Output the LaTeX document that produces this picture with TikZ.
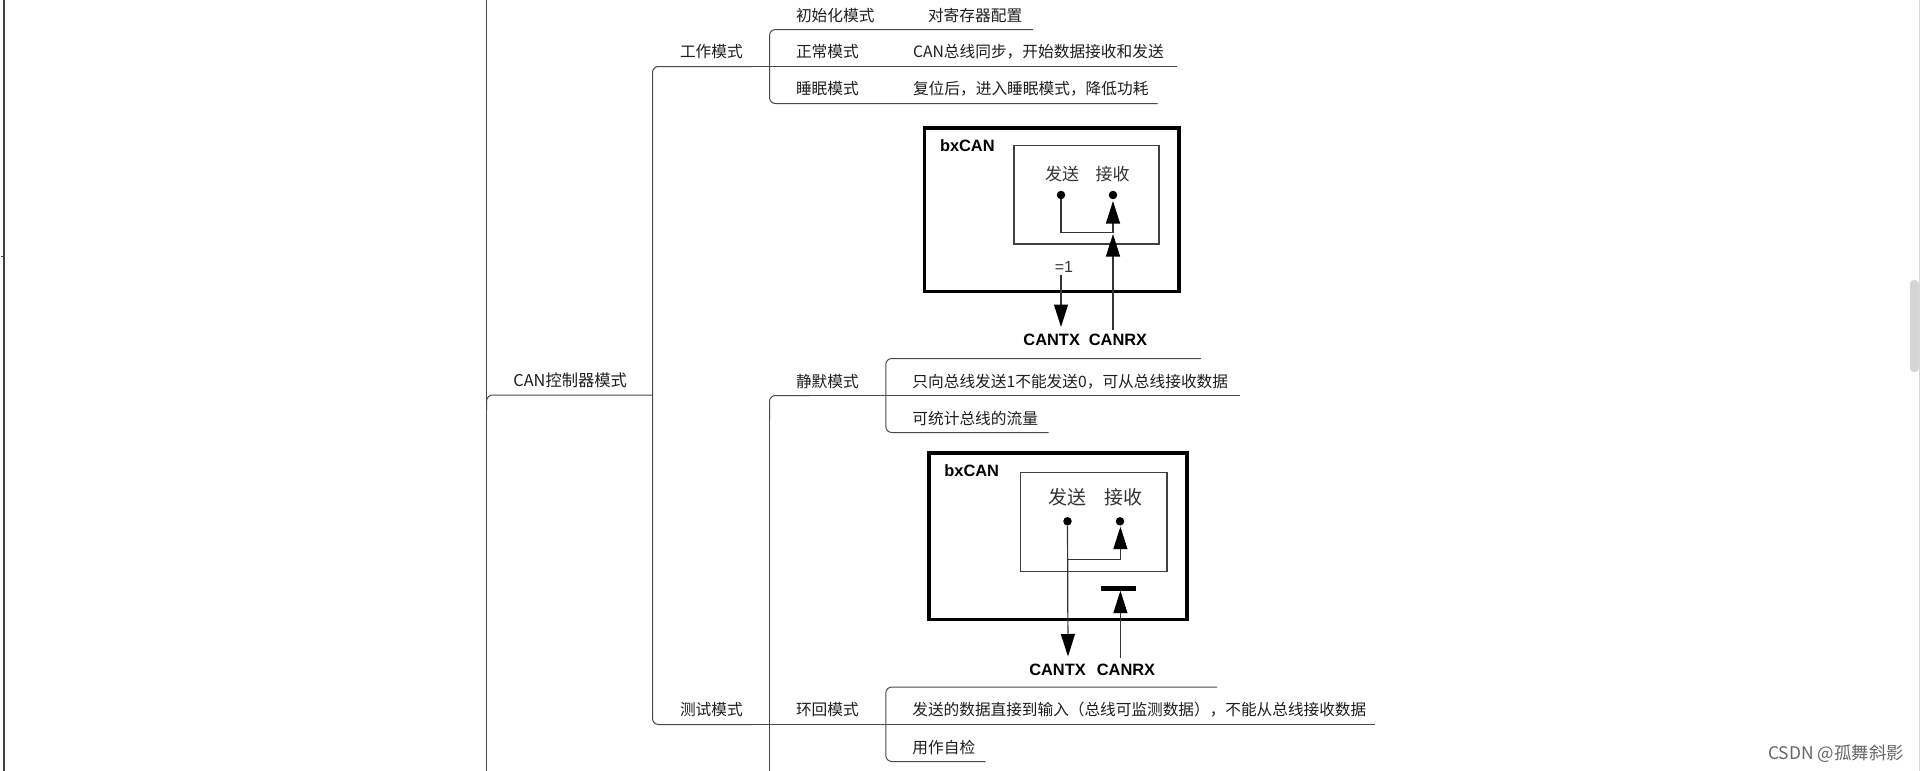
\documentclass[tikz,border=0pt]{standalone}
\usepackage{fontspec}
\setmainfont{Noto Sans CJK SC}
\newfontfamily\boldlat{Liberation Sans}[BoldFont={Liberation Sans Bold}]
\usetikzlibrary{arrows.meta}
\definecolor{ink}{HTML}{1E1E1E}
\definecolor{wire}{HTML}{4A4A4A}
\definecolor{sbar}{HTML}{D5D5D7}
\tikzset{
  x=1pt,y=-1pt,
  txt/.style={anchor=west,inner sep=0pt,outer sep=0pt,text=ink,text height=12pt,text depth=0pt,font=\fontsize{15.7}{16}\selectfont},
  lab/.style={anchor=center,inner sep=0pt,outer sep=0pt,text=black,font=\boldlat\bfseries\fontsize{16.4}{17}\selectfont},
  cjk/.style={anchor=center,inner sep=0pt,outer sep=0pt,text=black!80,font=\fontsize{#1}{#1}\selectfont},
  wireline/.style={draw=wire,line width=1pt},
  branch/.style={wireline,rounded corners=6pt},
  outerbox/.style={draw=black,line width=#1},
  innerbox/.style={draw=black!75,line width=1.4pt},
  sig/.style={draw=black!80,line width=1.2pt},
  sigarrow/.style={sig,-{Triangle[width=14pt,length=22.5pt,fill=black,color=black]},shorten >=0pt},
  dot/.style={circle,fill=black,inner sep=0pt,minimum width=6.5pt,minimum height=8.5pt},
}
\begin{document}
\begin{tikzpicture}
\useasboundingbox (0,0) rectangle (1920,771);
\fill[white] (0,0) rectangle (1920,771);

% page furniture
\coordinate (edgeT) at (4,0); \coordinate (edgeB) at (4,771);
\draw[draw=black!75,line width=2pt] (edgeT) -- (edgeB);
\coordinate (tickL) at (1,256.5); \coordinate (tickR) at (3,256.5);
\draw[draw=black!75,line width=1pt] (tickL) -- (tickR);
\coordinate (frameT) at (1919.5,0); \coordinate (frameB) at (1919.5,771);
\draw[draw=black!15,line width=1pt] (frameT) -- (frameB);
\fill[sbar,rounded corners=4pt] (1910,280) rectangle (1919,372);

% coordinates of the tree
\coordinate (rootT) at (486.6,0);
\coordinate (rootB) at (486.6,771);
\coordinate (rootJ) at (486.6,395);
\coordinate (mainJ) at (652.5,395);
\coordinate (mainTop) at (652.5,66.5);
\coordinate (mainBot) at (652.5,724.5);
\coordinate (workJ) at (769.5,66.5);
\coordinate (workEnd) at (1177,66.5);
\coordinate (workTop) at (769.5,29.5);
\coordinate (initEnd) at (1033,29.5);
\coordinate (workBot) at (769.5,103.5);
\coordinate (sleepEnd) at (1157.5,103.5);
\coordinate (testTop) at (769.5,395.5);
\coordinate (testBot) at (769.5,771);
\coordinate (silentJ) at (885.8,395.5);
\coordinate (silentEnd) at (1239.6,395.5);
\coordinate (silentT) at (885.8,358.5);
\coordinate (silentTEnd) at (1201,358.5);
\coordinate (silentB) at (885.8,432.5);
\coordinate (silentBEnd) at (1048.6,432.5);
\coordinate (loopJ) at (885.8,724.5);
\coordinate (loopEnd) at (1375,724.5);
\coordinate (loopT) at (885.8,687);
\coordinate (loopTEnd) at (1217,687);
\coordinate (loopB) at (885.8,761.5);
\coordinate (loopBEnd) at (985.6,761.5);

% tree connectors
\draw[wireline] (rootT) -- (rootB);
\draw[branch] (486.6,410) -- (rootJ) -- (mainJ);
\draw[branch] (mainJ |- workJ) ++(100,0) -- (mainTop) -- (mainBot) -- ++(100,0);
\draw[wireline] (mainTop) ++(90,0) -- (workEnd);
\draw[wireline] (mainBot) ++(90,0) -- (loopEnd);
\draw[branch] (initEnd) -- (workTop) -- (workBot) -- (sleepEnd);
\draw[branch] (769.5,420) -- (testTop) -- ++(40,0);
\draw[wireline] (769.5,410) -- (testBot);
\draw[wireline] (800,395.5) -- (silentEnd);
\draw[branch] (silentTEnd) -- (silentT) -- (silentB) -- (silentBEnd);
\draw[branch] (loopTEnd) -- (loopT) -- (loopB) -- (loopBEnd);

% tree labels
\node[txt,font=\fontsize{16.3}{16}\selectfont] (tRoot) at (513.4,380.5) {CAN控制器模式};
\node[txt] (tWork) at (680,51.7) {工作模式};
\node[txt] (tInit) at (796,15) {初始化模式};
\node[txt] (tInitD) at (928,15) {对寄存器配置};
\node[txt] (tNorm) at (796,51.7) {正常模式};
\node[txt] (tNormD) at (913,51.7) {CAN总线同步，开始数据接收和发送};
\node[txt] (tSleep) at (796,88.7) {睡眠模式};
\node[txt] (tSleepD) at (913,88.7) {复位后，进入睡眠模式，降低功耗};
\node[txt] (tSil) at (796,381) {静默模式};
\node[txt] (tSilA) at (912.4,381) {只向总线发送1不能发送0，可从总线接收数据};
\node[txt] (tSilB) at (912.4,418) {可统计总线的流量};
\node[txt] (tTest) at (680,709.5) {测试模式};
\node[txt] (tLoop) at (796,709.5) {环回模式};
\node[txt,font=\fontsize{15.65}{16}\selectfont] (tLoopA) at (912.4,709.5) {发送的数据直接到输入（总线可监测数据），不能从总线接收数据};
\node[txt] (tLoopB) at (912.4,747) {用作自检};

% ---- silent-mode figure
\draw[outerbox=3.6pt] (924.5,128) rectangle (1179,291.5);
\draw[innerbox] (1014,145.7) rectangle (1159,244);
\node[lab,anchor=west] (bx1) at (940,146) {bxCAN};
\node[cjk=17] (tx1) at (1062,174) {发送};
\node[cjk=17] (rx1) at (1112.5,174) {接收};
\node[dot] (d1a) at (1061,195) {};
\node[dot] (d1b) at (1113,195) {};
\node[lab] (cantx1) at (1051.7,340) {CANTX};
\node[lab] (canrx1) at (1118,340) {CANRX};
\node[inner sep=0pt,text=black!80,font=\boldlat\fontsize{16}{16}\selectfont] (eq1) at (1064,267) {=1};
\coordinate (s1a) at (1061,232.5);
\coordinate (s1b) at (1113,232.5);
\coordinate (s1c) at (1113,201);
\coordinate (s1d) at (1061,275);
\coordinate (s1e) at (1061,327);
\coordinate (s1f) at (1113,330);
\coordinate (s1g) at (1113,234);
\draw[sig] (d1a) -- (s1a) -- (s1b);
\draw[sigarrow] (s1b) -- (s1c);
\draw[sigarrow] (s1d) -- (s1e);
\draw[sigarrow] (s1f) -- (s1g);

% ---- loopback figure
\draw[outerbox=3.2pt] (929,453) rectangle (1187,619.8);
\draw[innerbox] (1020.5,472.5) rectangle (1167,571.5);
\node[lab,anchor=west] (bx2) at (944.4,471) {bxCAN};
\node[cjk=19] (tx2) at (1067.5,497.5) {发送};
\node[cjk=19] (rx2) at (1123,497.5) {接收};
\node[dot] (d2a) at (1067.5,521.3) {};
\node[dot] (d2b) at (1120,521.3) {};
\node[lab] (cantx2) at (1057.5,669.8) {CANTX};
\node[lab] (canrx2) at (1126,669.8) {CANRX};
\coordinate (s2a) at (1068,656.5);
\coordinate (s2b) at (1068,559.5);
\coordinate (s2c) at (1120.4,559.5);
\coordinate (s2d) at (1120.4,526.7);
\coordinate (s2e) at (1120.4,658);
\coordinate (s2f) at (1120.4,590.7);
\coordinate (barL) at (1101,588.8);
\coordinate (barR) at (1136.4,588.8);
\draw[sigarrow] (d2a) -- (s2a);
\draw[sig] (s2b) -- (s2c);
\draw[sigarrow] (s2c) -- (s2d);
\draw[sigarrow] (s2e) -- (s2f);
\draw[draw=black,line width=5pt] (barL) -- (barR);

% watermark
\node[anchor=east,inner sep=0pt,text=black!60,font=\fontsize{17.4}{17}\selectfont] (wm) at (1904,753.5) {CSDN @孤舞斜影};
\end{tikzpicture}
\end{document}
